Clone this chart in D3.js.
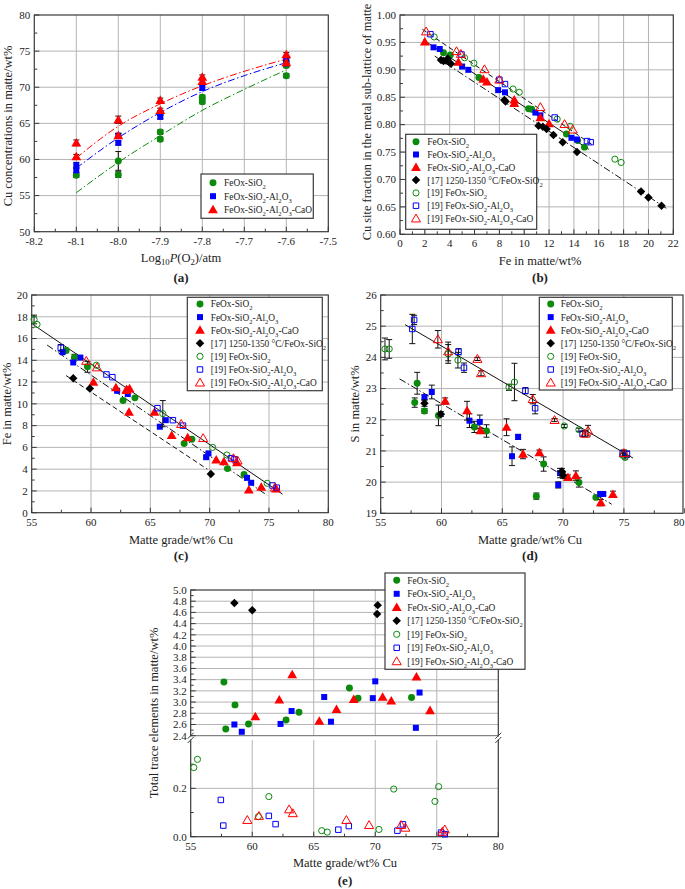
<!DOCTYPE html>
<html><head><meta charset="utf-8">
<script src="https://cdn.jsdelivr.net/npm/d3@7"></script>
<style>
body{margin:0;background:#fff}
svg{display:block}
text{font-family:"Liberation Serif","Times New Roman",serif;fill:#222}
</style>
</head><body>
<svg id="chart" width="685" height="889" font-family="Liberation Serif, Times New Roman, serif"></svg>
<script>
// ---------------- DATA ----------------
const legendLabels = ["FeOx-SiO_2","FeOx-SiO_2-Al_2O_3","FeOx-SiO_2-Al_2O_3-CaO","[17] 1250-1350 °C/FeOx-SiO_2","[19] FeOx-SiO_2","[19] FeOx-SiO_2-Al_2O_3","[19] FeOx-SiO_2-Al_2O_3-CaO"];

// Panel (a): [logPO2, Cu wt%, error]
const aTicksX = [-8.2,-8.1,-8.0,-7.9,-7.8,-7.7,-7.6,-7.5];
const aTicksY = [50,55,60,65,70,75,80];
const aGreen = [[-8.1,57.8,0.3],[-8.0,59.8,1.3],[-8.0,57.9,0.4],[-7.9,63.8,0.3],[-7.9,62.8,0.3],[-7.8,68.6,0.3],[-7.8,68.0,0.3],[-7.6,73.0,0.3],[-7.6,71.6,0.3]];
const aBlue = [[-8.1,59.2,0.4],[-8.1,58.5,0.3],[-8.0,63.3,0.3],[-8.0,62.3,0.3],[-7.9,66.4,0.3],[-7.9,65.9,0.3],[-7.8,69.9,0.3],[-7.6,73.7,0.3],[-7.6,73.3,0.3]];
const aRed = [[-8.1,62.3,0.4],[-8.1,60.4,0.3],[-8.0,65.5,0.5],[-8.0,63.3,0.3],[-7.9,68.2,0.3],[-7.9,66.8,0.3],[-7.8,71.4,0.3],[-7.8,70.8,0.3],[-7.6,74.5,0.3],[-7.6,73.4,0.3]];
const aFitX = [-8.1,-8.0,-7.9,-7.8,-7.7,-7.6];
const aFitGreen = [55.4,59.6,63.3,66.8,69.7,72.4];
const aFitBlue = [58.8,63.0,66.5,69.4,71.6,73.4];
const aFitRed = [60.2,64.6,67.7,70.2,72.2,73.9];

// Panel (b): [Fe wt%, Cu site fraction]
const bTicksX = [0,2,4,6,8,10,12,14,16,18,20,22];
const bTicksY = [0.60,0.65,0.70,0.75,0.80,0.85,0.90,0.95,1.00];
const bGreen = [[3.5,0.931],[4.05,0.927],[6.35,0.886],[10.35,0.829],[10.6,0.828],[13.4,0.783],[14.3,0.771],[14.85,0.759]];
const bBlue = [[2.7,0.941],[3.2,0.938],[5.0,0.906],[5.5,0.900],[7.9,0.863],[8.45,0.859],[10.9,0.822],[11.3,0.817],[13.8,0.776],[14.25,0.773]];
const bRed = [[2.0,0.951],[4.7,0.914],[6.7,0.883],[7.0,0.878],[9.2,0.845],[9.2,0.839],[11.3,0.813],[12.0,0.802]];
const bBlack = [[3.3,0.918],[3.5,0.916],[3.7,0.917],[3.85,0.920],[4.1,0.911],[8.4,0.845],[8.5,0.842],[11.15,0.798],[11.5,0.796],[11.8,0.792],[12.35,0.781],[13.1,0.768],[14.25,0.750],[19.4,0.678],[20.0,0.667],[21.05,0.652]];
const bGreenO = [[2.75,0.960],[5.2,0.922],[5.95,0.912],[9.1,0.865],[9.6,0.859],[12.65,0.810],[13.7,0.797],[17.3,0.737],[17.8,0.731]];
const bBlueO = [[2.45,0.965],[4.95,0.928],[8.0,0.882],[8.45,0.874],[12.45,0.813],[15.05,0.770],[15.35,0.768]];
const bRedO = [[2.1,0.970],[4.55,0.934],[4.9,0.929],[6.8,0.901],[8.0,0.882],[11.3,0.832],[13.25,0.801],[13.9,0.791]];
const bFitDashed = [[1.8,0.974],[15.5,0.763]];
const bFitSolid = [[1.85,0.955],[15.2,0.755]];
const bFitDashDot = [[2.8,0.925],[21.6,0.645]];

// Panel (c): [Cu wt%, Fe wt%, error]
const mTicksX = [55,60,65,70,75,80];
const cTicksY = [0,2,4,6,8,10,12,14,16,18,20];
const cGreen = [[57.9,14.9,0.2],[58.6,14.25,0.3],[59.7,13.4,0.5],[62.7,10.3,0],[63.7,10.55,0],[67.85,6.35,0],[68.5,6.75,0],[71.5,4.05,0],[72.9,3.5,0]];
const cBlue = [[57.6,14.75,0],[58.5,13.8,0],[59.1,14.25,0],[62.2,11.2,0],[63.1,10.9,0],[65.8,7.9,0],[66.3,8.5,0],[69.7,5.1,0],[69.9,5.45,0],[73.15,3.2,0],[73.5,2.75,0]];
const cRed = [[60.2,12.0,0],[62.1,11.5,0],[63.0,11.25,0],[63.25,11.4,0],[63.2,9.25,0],[65.35,9.25,0],[66.8,7.1,0],[68.15,6.9,0],[70.55,4.85,0],[71.2,4.7,0],[72.3,4.6,0],[73.3,2.1,0],[74.35,2.35,0],[75.6,2.2,0]];
const cBlack = [[58.5,12.35,0],[59.9,11.4,0],[70.1,3.55,0]];
const cGreenO = [[55.2,17.75,0.4],[55.45,17.3,0],[60.45,13.55,0],[66.05,9.1,1.2],[70.25,6.0,0],[71.45,5.3,0],[74.85,2.7,0]];
const cBlueO = [[57.45,15.15,0.3],[61.3,12.7,0],[61.8,12.45,0],[65.6,9.6,0],[66.9,8.5,0],[67.75,8.0,0],[71.8,5.0,0],[72.1,4.9,0],[75.3,2.5,0],[75.65,2.3,0]];
const cRedO = [[59.6,13.95,0],[60.5,13.35,0],[63.0,11.3,0],[67.6,8.15,0],[69.45,6.85,0],[72.0,5.0,0],[72.35,4.8,0],[75.5,2.3,0]];
const cFitSolid = [[55.1,17.3],[76.15,1.7]];
const cFitDashDot = [[56.3,15.4],[74.85,1.6]];
const cFitDashed = [[57.9,12.6],[69.8,4.0]];

// Panel (d): [Cu wt%, S wt%, error]
const dTicksY = [19,20,21,22,23,24,25,26];
const dGreen = [[57.8,22.55,0.15],[58.0,23.17,0.35],[58.6,22.28,0.08],[59.75,22.14,0.33],[62.7,21.77,0.18],[63.7,21.64,0.2],[67.8,19.55,0.1],[68.4,20.58,0.23],[71.3,19.99,0.15],[72.7,19.51,0.05]];
const dBlue = [[58.6,22.72,0.08],[59.2,22.89,0.22],[62.3,21.97,0.22],[63.15,21.93,0.22],[65.8,20.83,0.3],[66.3,21.45,0.08],[69.6,19.91,0.1],[69.75,20.29,0.15],[73.05,19.62,0.05],[73.3,19.62,0.05]];
const dRed = [[60.3,22.6,0.1],[62.1,22.29,0.3],[63.2,21.65,0.08],[65.35,21.76,0.27],[66.7,20.9,0.15],[68.05,20.95,0.08],[70.4,20.15,0.08],[71.05,20.21,0.15],[73.1,19.34,0.1],[74.1,19.61,0.1]];
const dBlack = [[58.6,22.53,0.1],[59.95,22.18,0.08],[69.9,20.34,0.1],[70.0,20.22,0.1]];
const dGreenO = [[55.35,24.27,0.35],[55.7,24.27,0.3],[60.55,24.11,0.3],[61.35,23.91,0.25],[65.55,23.04,0.1],[66.0,23.21,0.6],[70.1,21.8,0.05],[71.3,21.68,0.05],[74.9,20.86,0.05],[75.1,20.79,0.05]];
const dBlueO = [[57.6,24.91,0.47],[57.75,25.2,0.15],[61.4,24.18,0.1],[61.85,23.67,0.15],[66.9,22.93,0.1],[67.7,22.37,0.18],[71.6,21.55,0.08],[74.9,20.92,0.1],[75.25,20.9,0.1]];
const dRedO = [[59.7,24.58,0.28],[60.55,24.19,0.3],[62.95,23.95,0.05],[63.25,23.49,0.08],[67.5,22.66,0.15],[69.3,21.99,0.05],[71.8,21.55,0.1],[72.05,21.65,0.17],[75.0,20.93,0.1]];
const dFitSolid = [[57.0,25.05],[75.75,20.77]];
const dFitDashDot = [[56.55,23.31],[74.0,19.29]];

// Panel (e): [Cu wt%, total trace elements wt%]
const eTicksYUpper = [2.4,2.6,2.8,3.0,3.2,3.4,3.6,3.8,4.0,4.2,4.4,4.6,4.8,5.0];
const eTicksYLower = [0.0,0.2];
const eGreen = [[57.7,3.36],[57.85,2.52],[58.6,2.95],[59.7,2.61],[62.75,2.68],[63.8,2.82],[67.9,3.25],[68.6,3.07],[72.95,3.08]];
const eBlue = [[58.55,2.60],[59.15,2.47],[62.3,2.61],[63.2,2.84],[65.85,3.09],[66.4,2.65],[69.8,3.07],[70.0,3.37],[73.3,2.54],[73.6,3.17]];
const eRed = [[60.25,2.74],[62.2,3.04],[63.25,3.49],[65.45,2.66],[66.85,2.87],[68.25,3.05],[70.6,3.09],[71.3,3.02],[73.35,3.45],[74.45,2.85]];
const eBlack = [[58.55,4.77],[60.0,4.64],[70.2,4.73],[70.15,4.57]];
const eGreenO = [[55.25,0.286],[55.55,0.32],[60.5,0.083],[61.35,0.166],[65.65,0.025],[66.1,0.019],[70.3,0.03],[71.5,0.197],[74.85,0.146],[75.15,0.207]];
const eBlueO = [[57.45,0.152],[57.65,0.046],[61.35,0.086],[61.9,0.052],[67.0,0.029],[67.85,0.044],[71.8,0.025],[72.25,0.051],[75.35,0.017],[75.65,0.01]];
const eRedO = [[59.6,0.069],[60.55,0.086],[63.0,0.113],[63.3,0.097],[67.65,0.069],[69.5,0.048],[72.1,0.048],[72.45,0.037],[75.45,0.02],[75.65,0.03]];

// ---------------- DRAWING ----------------
const svg = d3.select("#chart");
const COLORS = ["#0b8a0b","#0000ff","#ff0000","#000000","#0b8a0b","#0000ff","#ff0000"];
const GRID = "#b4b4b4", FRAME = "#3a3a3a";
const LFS = 9.4;

function rich(sel, str, fs) {
  const re = /_\{([^}]*)\}|~\{([^}]*)\}|_(.)/g;
  let last = 0, m, shift = 0;
  const add = (t, o) => {
    const ts = sel.append("tspan").text(t);
    const want = o.sub ? 3 : 0;
    if (want !== shift) { ts.attr("dy", want - shift); shift = want; }
    if (o.sub) ts.attr("font-size", fs * 0.7);
    if (o.it) ts.attr("font-style", "italic");
  };
  while ((m = re.exec(str))) {
    if (m.index > last) add(str.slice(last, m.index), {});
    if (m[2] !== undefined) add(m[2], {it: true});
    else add(m[1] !== undefined ? m[1] : m[3], {sub: true});
    last = re.lastIndex;
  }
  if (last < str.length) add(str.slice(last), {});
}

function marker(g, k, x, y) {
  const open = k >= 4;
  const t = k === 3 ? 3 : (k % 4 === 0 ? 0 : (k === 5 ? 1 : (k === 6 ? 2 : k)));
  let p;
  if (t === 0) p = d3.symbol(d3.symbolCircle, open ? 30 : 38)();
  else if (t === 1) p = d3.symbol(d3.symbolSquare, open ? 30 : 36)();
  else if (t === 2) p = d3.symbol(d3.symbolTriangle, open ? 36 : 42)();
  else p = d3.symbol(d3.symbolSquare, 36)();
  const el = g.append("path").attr("d", p)
    .attr("transform", `translate(${x},${y + (t === 2 ? 0.8 : 0)})${t === 3 ? " rotate(45)" : ""}`);
  if (open) el.attr("fill", "none").attr("stroke", COLORS[k]).attr("stroke-width", 1);
  else el.attr("fill", COLORS[k]);
}

function series(g, x, y, data, k) {
  data.forEach(d => {
    if (d[2]) {
      const y1 = y(d[1] - d[2]), y2 = y(d[1] + d[2]), xx = x(d[0]);
      g.append("line").attr("x1", xx).attr("x2", xx).attr("y1", y1).attr("y2", y2).attr("stroke", "#111").attr("stroke-width", 1);
      [y1, y2].forEach(yy => g.append("line").attr("x1", xx - 3).attr("x2", xx + 3).attr("y1", yy).attr("y2", yy).attr("stroke", "#111").attr("stroke-width", 1));
    }
  });
  data.forEach(d => marker(g, k, x(d[0]), y(d[1])));
}

function fitLine(g, x, y, pts, dash, color, curve) {
  const line = d3.line().x(d => x(d[0])).y(d => y(d[1]));
  if (curve) line.curve(d3.curveMonotoneX);
  g.append("path").attr("d", line(pts)).attr("fill", "none")
    .attr("stroke", color || "#111").attr("stroke-width", 1)
    .attr("stroke-dasharray", dash);
}

const DASH = "5,3", DASHDOT = "7,2.5,1.5,2.5";

function xLabel(g, xx, yy, txt) {
  const t = g.append("text").attr("x", xx).attr("y", yy).attr("text-anchor", "middle").attr("font-size", 11).text(txt);
  if (xx > 676) t.attr("x", 684.5).attr("text-anchor", "end");
}

function frame(g, P, x, y, xt, yt, xminor, yminor, xfmt, yfmt) {
  xt.forEach(v => { const xx = x(v); if (xx > P.l + 1 && xx < P.r - 1)
    g.append("line").attr("x1", xx).attr("x2", xx).attr("y1", P.t).attr("y2", P.b).attr("stroke", GRID).attr("stroke-width", 1); });
  yt.forEach(v => { const yy = y(v); if (yy > P.t + 1 && yy < P.b - 1)
    g.append("line").attr("x1", P.l).attr("x2", P.r).attr("y1", yy).attr("y2", yy).attr("stroke", GRID).attr("stroke-width", 1); });
  g.append("rect").attr("x", P.l).attr("y", P.t).attr("width", P.r - P.l).attr("height", P.b - P.t)
    .attr("fill", "none").attr("stroke", FRAME).attr("stroke-width", 1.2);
  xt.forEach(v => { const xx = x(v);
    g.append("line").attr("x1", xx).attr("x2", xx).attr("y1", P.b).attr("y2", P.b - 5).attr("stroke", FRAME);
    xLabel(g, xx, P.b + 13, xfmt(v)); });
  xminor.forEach(v => { const xx = x(v);
    g.append("line").attr("x1", xx).attr("x2", xx).attr("y1", P.b).attr("y2", P.b - 3).attr("stroke", FRAME); });
  yt.forEach(v => { const yy = y(v);
    g.append("line").attr("x1", P.l).attr("x2", P.l + 5).attr("y1", yy).attr("y2", yy).attr("stroke", FRAME);
    g.append("text").attr("x", P.l - 4).attr("y", yy + 3.8).attr("text-anchor", "end").attr("font-size", 11).text(yfmt(v)); });
  yminor.forEach(v => { const yy = y(v);
    g.append("line").attr("x1", P.l).attr("x2", P.l + 3).attr("y1", yy).attr("y2", yy).attr("stroke", FRAME); });
}

function legend(g, box, mx, tx, y0, dy, n) {
  g.append("rect").attr("x", box[0]).attr("y", box[1]).attr("width", box[2] - box[0]).attr("height", box[3] - box[1])
    .attr("fill", "#fff").attr("stroke", FRAME).attr("stroke-width", 1.2);
  for (let i = 0; i < n; i++) {
    const yy = y0 + i * dy;
    marker(g, i, mx, yy);
    const t = g.append("text").attr("x", tx).attr("y", yy + 3.4).attr("font-size", LFS);
    rich(t, legendLabels[i], LFS);
  }
}

function xTitle(g, x, y, str, fs) {
  const t = g.append("text").attr("x", x).attr("y", y).attr("text-anchor", "middle").attr("font-size", fs || 12.5);
  rich(t, str, fs || 12.5);
}
function yTitle(g, x, y, str, fs) {
  const t = g.append("text").attr("transform", `translate(${x},${y}) rotate(-90)`).attr("text-anchor", "middle").attr("font-size", fs || 12.5);
  rich(t, str, fs || 12.5);
}
function tag(g, x, y, str) {
  g.append("text").attr("x", x).attr("y", y).attr("text-anchor", "middle").attr("font-size", 13).attr("font-weight", "bold").text(str);
}
const range = (a, b, s) => d3.range(a, b + s / 2, s).map(v => +v.toFixed(4));

// ---- Panel (a)
{
  const P = {l: 34.3, r: 328.3, t: 15, b: 231.7};
  const x = d3.scaleLinear([-8.2, -7.5], [P.l, P.r]);
  const y = d3.scaleLinear([50, 80], [P.b, P.t]);
  const g = svg.append("g");
  frame(g, P, x, y, aTicksX, aTicksY, range(-8.15, -7.55, 0.1), range(52.5, 77.5, 5), v => v.toFixed(1), v => v);
  const fx = (arr) => aFitX.map((v, i) => [v, arr[i]]);
  fitLine(g, x, y, fx(aFitGreen), DASHDOT, COLORS[0], true);
  fitLine(g, x, y, fx(aFitBlue), DASHDOT, COLORS[1], true);
  fitLine(g, x, y, fx(aFitRed), DASHDOT, COLORS[2], true);
  series(g, x, y, aGreen, 0);
  series(g, x, y, aBlue, 1);
  series(g, x, y, aRed, 2);
  legend(g, [201, 174, 313.3, 218.3], 213, 224, 182.7, 13.5, 3);
  xTitle(g, 181, 262, "Log_{10}~{P}(O_2)/atm");
  yTitle(g, 12, 126, "Cu concentrations in matte/wt%");
  tag(g, 181, 282, "(a)");
}

// ---- Panel (b)
{
  const P = {l: 400, r: 673.3, t: 15, b: 234.3};
  const x = d3.scaleLinear([0, 22], [P.l, P.r]);
  const y = d3.scaleLinear([0.6, 1.0], [P.b, P.t]);
  const g = svg.append("g");
  frame(g, P, x, y, bTicksX, bTicksY, range(1, 21, 2), range(0.625, 0.975, 0.05), v => v, v => v.toFixed(2));
  fitLine(g, x, y, bFitDashed, DASH);
  fitLine(g, x, y, bFitSolid, null);
  fitLine(g, x, y, bFitDashDot, DASHDOT);
  [bGreen, bBlue, bRed, bBlack, bGreenO, bBlueO, bRedO].forEach((s, k) => series(g, x, y, s, k));
  legend(g, [405.7, 134.3, 536.7, 229.3], 416, 427.3, 141.7, 12.8, 7);
  xTitle(g, 540, 265, "Fe in matte/wt%");
  yTitle(g, 371, 122, "Cu site fraction in the metal sub-lattice of matte", 12.4);
  tag(g, 540, 282, "(b)");
}

// ---- Panel (c)
{
  const P = {l: 31.7, r: 328.3, t: 295, b: 512.7};
  const x = d3.scaleLinear([55, 80], [P.l, P.r]);
  const y = d3.scaleLinear([0, 20], [P.b, P.t]);
  const g = svg.append("g");
  frame(g, P, x, y, mTicksX, cTicksY, range(57.5, 77.5, 5), range(1, 19, 2), v => v, v => v);
  fitLine(g, x, y, cFitSolid, null);
  fitLine(g, x, y, cFitDashDot, DASHDOT);
  fitLine(g, x, y, cFitDashed, DASH);
  [cGreen, cBlue, cRed, cBlack, cGreenO, cBlueO, cRedO].forEach((s, k) => series(g, x, y, s, k));
  legend(g, [187.3, 297.3, 322.3, 390.7], 200, 210.7, 304, 13.1, 7);
  xTitle(g, 181, 544, "Matte grade/wt% Cu");
  yTitle(g, 11, 404, "Fe in matte/wt%");
  tag(g, 181, 560, "(c)");
}

// ---- Panel (d)
{
  const P = {l: 380.7, r: 683, t: 295, b: 513.3};
  const x = d3.scaleLinear([55, 80], [P.l, 684.7]);
  const y = d3.scaleLinear([19, 26], [P.b, P.t]);
  const g = svg.append("g");
  frame(g, P, x, y, mTicksX, dTicksY, range(57.5, 77.5, 5), range(19.5, 25.5, 1), v => v, v => v);
  fitLine(g, x, y, dFitSolid, null);
  fitLine(g, x, y, dFitDashDot, DASHDOT);
  [dGreen, dBlue, dRed, dBlack, dGreenO, dBlueO, dRedO].forEach((s, k) => series(g, x, y, s, k));
  legend(g, [539.3, 297.3, 672.3, 390], 550.7, 560.7, 304, 13.1, 7);
  xTitle(g, 530, 544, "Matte grade/wt% Cu");
  yTitle(g, 359, 404, "S in matte/wt%");
  tag(g, 530, 560, "(d)");
}

// ---- Panel (e) with broken y axis
{
  const P = {l: 190.7, r: 498.3, t: 590, b: 836.7};
  const UB = 735.7, LT = 740;
  const x = d3.scaleLinear([55, 80], [P.l, P.r]);
  const yU = d3.scaleLinear([2.4, 5.0], [UB, P.t]);
  const yL = d3.scaleLinear([0, 0.4], [P.b, LT]);
  const y = v => v >= 1.5 ? yU(v) : yL(v);
  const g = svg.append("g");
  mTicksX.forEach(v => { const xx = x(v); if (xx > P.l + 1 && xx < P.r - 1) {
    g.append("line").attr("x1", xx).attr("x2", xx).attr("y1", P.t).attr("y2", UB).attr("stroke", GRID);
    g.append("line").attr("x1", xx).attr("x2", xx).attr("y1", LT).attr("y2", P.b).attr("stroke", GRID); } });
  eTicksYUpper.slice(1, -1).forEach(v => g.append("line").attr("x1", P.l).attr("x2", P.r).attr("y1", yU(v)).attr("y2", yU(v)).attr("stroke", GRID));
  g.append("line").attr("x1", P.l).attr("x2", P.r).attr("y1", yL(0.2)).attr("y2", yL(0.2)).attr("stroke", GRID);
  g.append("line").attr("x1", P.l).attr("x2", P.r).attr("y1", UB).attr("y2", UB).attr("stroke", "#666");
  g.append("rect").attr("x", P.l).attr("y", P.t).attr("width", P.r - P.l).attr("height", P.b - P.t)
    .attr("fill", "none").attr("stroke", FRAME).attr("stroke-width", 1.2);
  [P.l, P.r].forEach(xx => {
    g.append("rect").attr("x", xx - 2).attr("y", UB + 0.8).attr("width", 4).attr("height", LT - UB - 1.2).attr("fill", "#fff");
    [UB, LT].forEach(yy => g.append("line").attr("x1", xx - 3).attr("x2", xx + 3).attr("y1", yy + 3).attr("y2", yy - 3).attr("stroke", FRAME).attr("stroke-width", 1));
  });
  mTicksX.forEach(v => { const xx = x(v);
    g.append("line").attr("x1", xx).attr("x2", xx).attr("y1", P.b).attr("y2", P.b - 5).attr("stroke", FRAME);
    g.append("text").attr("x", xx).attr("y", P.b + 13).attr("text-anchor", "middle").attr("font-size", 11).text(v); });
  range(57.5, 77.5, 5).forEach(v => g.append("line").attr("x1", x(v)).attr("x2", x(v)).attr("y1", P.b).attr("y2", P.b - 3).attr("stroke", FRAME));
  eTicksYUpper.forEach(v => {
    g.append("line").attr("x1", P.l).attr("x2", P.l + 5).attr("y1", yU(v)).attr("y2", yU(v)).attr("stroke", FRAME);
    g.append("text").attr("x", P.l - 4).attr("y", yU(v) + 3.8).attr("text-anchor", "end").attr("font-size", 11).text(v.toFixed(1)); });
  range(2.5, 4.9, 0.2).forEach(v => g.append("line").attr("x1", P.l).attr("x2", P.l + 3).attr("y1", yU(v)).attr("y2", yU(v)).attr("stroke", FRAME));
  eTicksYLower.forEach(v => {
    g.append("line").attr("x1", P.l).attr("x2", P.l + 5).attr("y1", yL(v)).attr("y2", yL(v)).attr("stroke", FRAME);
    g.append("text").attr("x", P.l - 4).attr("y", yL(v) + 3.8).attr("text-anchor", "end").attr("font-size", 11).text(v.toFixed(1)); });
  [0.1, 0.3].forEach(v => g.append("line").attr("x1", P.l).attr("x2", P.l + 3).attr("y1", yL(v)).attr("y2", yL(v)).attr("stroke", FRAME));
  [eGreen, eBlue, eRed, eBlack, eGreenO, eBlueO, eRedO].forEach((s, k) => series(g, x, y, s, k));
  legend(g, [385, 573, 525, 669.3], 396.7, 407.3, 580.3, 13.5, 7);
  xTitle(g, 345, 867, "Matte grade/wt% Cu");
  yTitle(g, 158, 713, "Total trace elements in matte/wt%");
  tag(g, 345, 885, "(e)");
}
</script>
</body></html>
